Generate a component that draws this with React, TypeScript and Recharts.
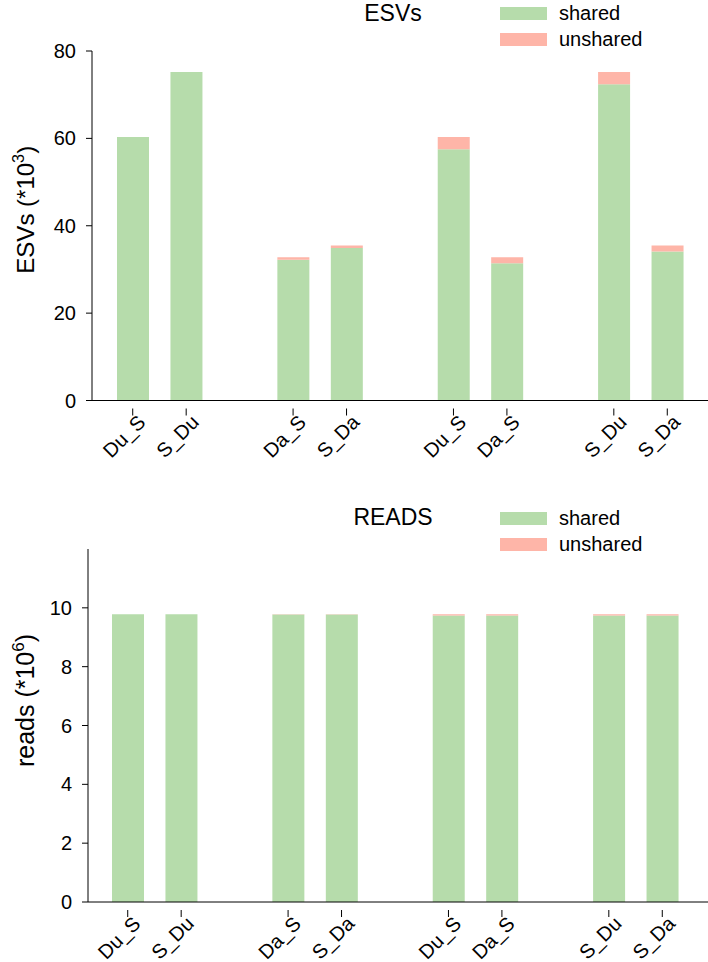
import { BarChart, Bar, XAxis, YAxis } from 'recharts'

const categories = ['Du_S', 'S_Du', '', 'Da_S', 'S_Da', '', 'Du_S', 'Da_S', '', 'S_Du', 'S_Da']
const esvShared = [60.3, 75.2, null, 32.2, 34.9, null, 57.5, 31.4, null, 72.4, 34.1]
const esvUnshared = [0, 0, null, 0.6, 0.6, null, 2.8, 1.4, null, 2.8, 1.4]
const readsShared = [9.78, 9.78, null, 9.77, 9.77, null, 9.74, 9.74, null, 9.74, 9.74]
const readsUnshared = [0, 0, null, 0.01, 0.01, null, 0.04, 0.04, null, 0.04, 0.04]
const esvTicks = [0, 20, 40, 60, 80]
const readsTicks = [0, 2, 4, 6, 8, 10]

const GREEN = '#b6dcab'
const PINK = '#feb5a8'
const FONT = '"Liberation Sans", Arial, sans-serif'

const esvData = categories.map((name, i) => ({ key: i, name, shared: esvShared[i], unshared: esvUnshared[i] }))
const readsData = categories.map((name, i) => ({ key: i, name, shared: readsShared[i], unshared: readsUnshared[i] }))

// tick under each bar, nothing for the gap slots
const CatTick = (props: any) => {
  const { x, y, payload } = props
  const label = categories[payload.value]
  if (!label) return null
  return (
    <g transform={`translate(${x},${y})`}>
      <line x1={0} y1={0} x2={0} y2={7} stroke="#000" strokeWidth={1} />
      <text
        transform="translate(14,15) rotate(-45)"
        textAnchor="end"
        fontSize={20}
        fontFamily={FONT}
        fill="#000"
      >
        {label}
      </text>
    </g>
  )
}

const LegendBox = ({ top }: { top: number }) => (
  <div style={{ position: 'absolute', left: 500, top, fontFamily: FONT, fontSize: 20, color: '#000' }}>
    {[['shared', GREEN], ['unshared', PINK]].map(([t, c]) => (
      <div key={t} style={{ display: 'flex', alignItems: 'center', height: 26 }}>
        <div style={{ width: 47, height: 13, background: c, marginRight: 12 }} />
        <span>{t}</span>
      </div>
    ))}
  </div>
)

const yLabel = (text: string, sup: string, cx: number, shift: number, size: number) => (props: any) => {
  const vb = props.viewBox
  const cy = vb.y + vb.height / 2 + shift
  return (
    <text
      x={cx}
      y={cy}
      transform={`rotate(-90, ${cx}, ${cy})`}
      textAnchor="middle"
      fontSize={size}
      fontFamily={FONT}
      fill="#000"
    >
      {text}
      <tspan fontSize={size * 0.68} dy={-size * 0.42}>{sup}</tspan>
      <tspan dy={size * 0.42}>)</tspan>
    </text>
  )
}

function Panel({ data, title, ticks, domain, height, top, axisLeft, padL, padR, xAxisH, label, sup, shift, labelSize }: any) {
  return (
    <div style={{ position: 'relative', width: 708, height }}>
      <div
        style={{
          position: 'absolute', left: 393, top: title.top, transform: 'translateX(-50%)',
          fontFamily: FONT, fontSize: 23, color: '#000', lineHeight: 1,
        }}
      >
        {title.text}
      </div>
      <LegendBox top={title.legend} />
      <BarChart
        width={708}
        height={height}
        data={data}
        margin={{ top, right: 0, bottom: 0, left: axisLeft - 60 }}
        barSize={32}
      >
        <XAxis
          dataKey="key"
          type="category"
          interval={0}
          tick={<CatTick />}
          tickLine={false}
          axisLine={{ stroke: '#000', strokeWidth: 1 }}
          padding={{ left: padL, right: padR }}
          height={xAxisH}
        />
        <YAxis
          type="number"
          domain={domain}
          ticks={ticks}
          interval={0}
          width={60}
          tickSize={6}
          tickMargin={10}
          axisLine={{ stroke: '#000', strokeWidth: 1 }}
          tickLine={{ stroke: '#000', strokeWidth: 1 }}
          tick={{ fontSize: 20, fontFamily: FONT, fill: '#000' }}
          label={yLabel(label, sup, 34, shift, labelSize)}
        />
        <Bar dataKey="shared" stackId="a" fill={GREEN} isAnimationActive={false} />
        <Bar dataKey="unshared" stackId="a" fill={PINK} isAnimationActive={false} />
      </BarChart>
    </div>
  )
}

export default function App() {
  return (
    <div style={{ position: 'absolute', left: 0, top: 0, width: 708, height: 962, background: '#fff' }}>
      <Panel
        data={esvData}
        title={{ text: 'ESVs', top: 2, legend: 0 }}
        ticks={esvTicks}
        domain={[0, 80]}
        height={480}
        top={51}
        axisLeft={92}
        padL={14}
        padR={14}
        xAxisH={79.5}
        label="ESVs (*10"
        sup="3"
        shift={-16}
        labelSize={24}
      />
      <Panel
        data={readsData}
        title={{ text: 'READS', top: 26, legend: 25 }}
        ticks={readsTicks}
        domain={[0, 12]}
        height={482}
        top={69}
        axisLeft={88}
        padL={13}
        padR={19}
        xAxisH={60}
        label="reads (*10"
        sup="6"
        shift={-25}
        labelSize={25}
      />
    </div>
  )
}
